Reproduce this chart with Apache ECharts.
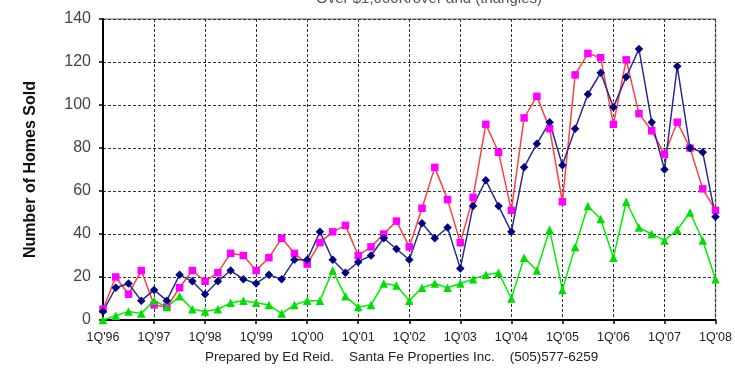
<!DOCTYPE html>
<html>
<head>
<meta charset="utf-8">
<script src="https://cdn.jsdelivr.net/npm/echarts@6/dist/echarts.min.js"></script>
<style>
  html, body { margin: 0; padding: 0; background: #fff; }
  #chart { width: 735px; height: 376px; }
</style>
</head>
<body>
<div id="chart"></div>
<script>
// Quarterly home sales, 1Q'96 through 1Q'08
const years = ['96','97','98','99','00','01','02','03','04','05','06','07','08'];
const quarters = [];
years.forEach(function (y, k) {
  const n = k === years.length - 1 ? 1 : 4;
  for (let q = 1; q <= n; q++) quarters.push(q + "Q'" + y);
});

// Homes sold per quarter, by price band
const squaresSeries = [5, 20, 12, 23, 7, 6, 15, 23, 18, 22, 31, 30,
  23, 29, 38, 31, 26, 36, 41, 44, 30, 34, 40, 46,
  34, 52, 71, 56, 36, 57, 91, 78, 51, 94, 104, 89,
  55, 114, 124, 122, 91, 121, 96, 88, 77, 92, 80, 61, 51];
const diamondsSeries = [4, 15, 17, 9, 14, 9, 21, 18, 12, 18, 23, 19,
  17, 21, 19, 28, 28, 41, 28, 22, 27, 30, 38, 33,
  28, 45, 38, 43, 24, 53, 65, 53, 41, 71, 82, 92,
  72, 89, 105, 115, 99, 113, 126, 92, 70, 118, 80, 78, 48];
const trianglesSeries = [0, 2, 4, 3, 9, 6, 11, 5, 4, 5, 8, 9,
  8, 7, 3, 7, 9, 9, 23, 11, 6, 7, 17, 16,
  9, 15, 17, 15, 17, 19, 21, 22, 10, 29, 23, 42,
  14, 34, 53, 47, 29, 55, 43, 40, 37, 42, 50, 37, 19];

const yTicks = { min: 0, max: 140, step: 20 };

const chart = echarts.init(document.getElementById('chart'), null, { renderer: 'canvas' });

function lineSeries(name, data, lineColor, markerColor, symbol, size) {
  return {
    name: name,
    type: 'line',
    data: data,
    symbol: symbol,
    symbolSize: size,
    showAllSymbol: true,
    lineStyle: { color: lineColor, width: 1.5 },
    itemStyle: { color: markerColor, borderColor: markerColor, borderWidth: 0 },
    emphasis: { disabled: true },
    z: 3
  };
}

chart.setOption({
  animation: false,
  backgroundColor: '#ffffff',
  textStyle: { fontFamily: 'Liberation Sans, Arial, sans-serif' },
  graphic: [{
    // subtitle line, partly above the top edge of the canvas
    type: 'text',
    x: 429,
    y: -9,
    style: {
      text: 'Over $1,000K/over and (triangles)',
      font: '15px Liberation Sans, Arial, sans-serif',
      fill: '#555',
      align: 'center',
      verticalAlign: 'top'
    }
  }, {
    type: 'text',
    left: 205,
    top: 350,
    style: {
      text: 'Prepared by Ed Reid.    Santa Fe Properties Inc.    (505)577-6259',
      font: '13.5px Liberation Sans, Arial, sans-serif',
      fill: '#222'
    }
  }],
  grid: {
    left: 103, right: 17, top: 19, bottom: 56, containLabel: false,
    show: true, borderColor: '#999', borderWidth: 1.5, backgroundColor: 'transparent'
  },
  xAxis: {
    type: 'category',
    data: quarters,
    boundaryGap: false,
    axisLine: { lineStyle: { color: '#000', width: 2 } },
    axisTick: { show: true, interval: 3, length: 4, lineStyle: { color: '#000', width: 1.5 } },
    axisLabel: {
      interval: 3,
      margin: 11,
      fontSize: 12.5,
      color: '#222',
      fontFamily: 'Liberation Sans, Arial, sans-serif'
    },
    splitLine: { show: true, interval: 3, lineStyle: { color: '#333', type: [3, 2], width: 1 } }
  },
  yAxis: {
    type: 'value',
    name: 'Number of Homes Sold',
    nameLocation: 'middle',
    nameGap: 64,
    nameTextStyle: { fontSize: 16, fontWeight: 'bold', color: '#111' },
    min: yTicks.min,
    max: yTicks.max,
    interval: yTicks.step,
    axisLine: { show: true, lineStyle: { color: '#000', width: 2 } },
    axisTick: { show: true, length: 4, lineStyle: { color: '#000', width: 1.5 } },
    axisLabel: { fontSize: 16, color: '#444', margin: 12 },
    splitLine: { show: true, lineStyle: { color: '#333', type: [3, 2], width: 1 } }
  },
  series: [
    lineSeries('squares', squaresSeries, '#ff4040', '#ff00ff', 'rect', 7.5),
    lineSeries('diamonds', diamondsSeries, '#2a2a90', '#000080', 'diamond', 8.5),
    lineSeries('triangles', trianglesSeries, '#00ee00', '#00dd00', 'triangle', 8.5)
  ]
});
</script>
</body>
</html>
